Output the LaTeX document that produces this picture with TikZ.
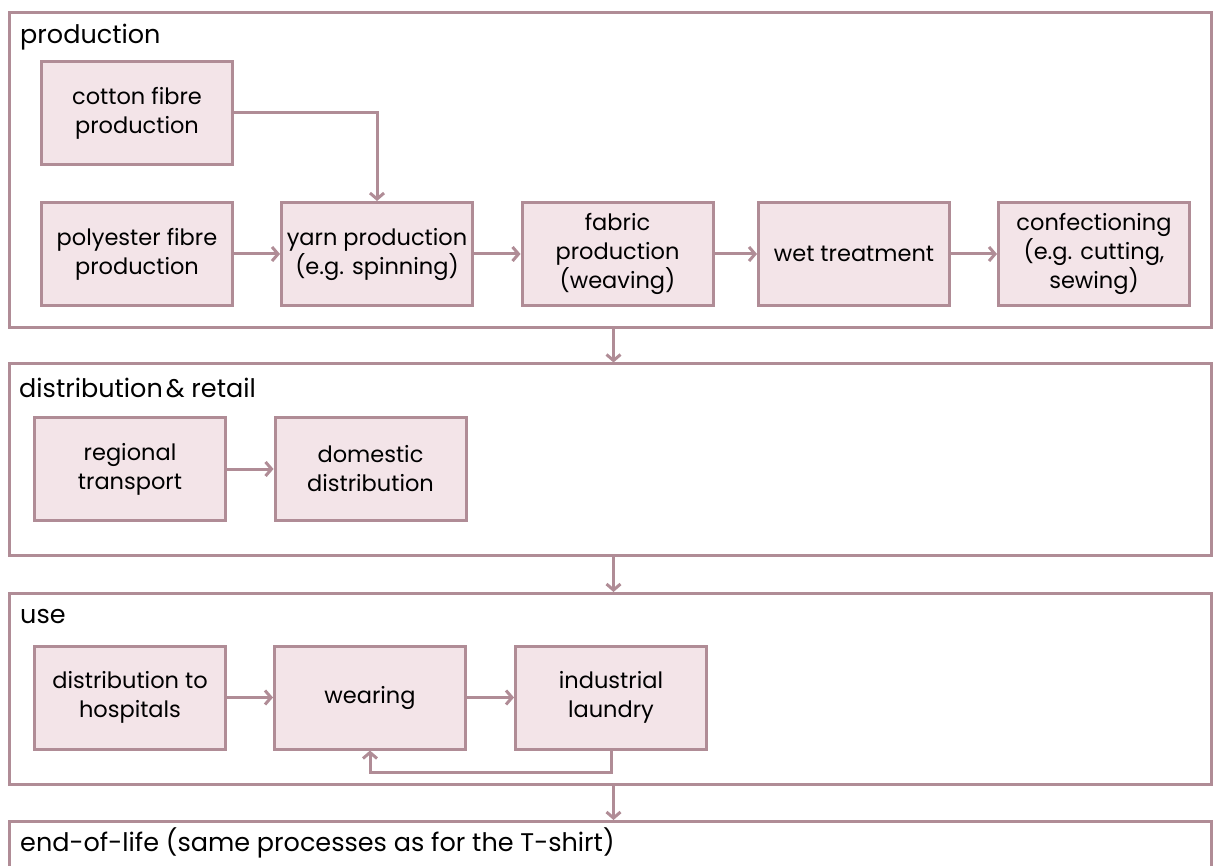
\documentclass[tikz,border=0pt]{standalone}
\usepackage{fontspec}
\setmainfont{Poppins}
\usetikzlibrary{arrows.meta}
\definecolor{edge}{HTML}{B08C96}
\definecolor{boxfill}{HTML}{F3E4E8}
\begin{document}
\begin{tikzpicture}[x=1pt,y=-1pt,
 proc/.style={draw=edge, fill=boxfill, line width=3pt, minimum width=191pt, minimum height=103pt, inner sep=0pt, align=center, font=\fontsize{22.5}{29}\selectfont},
 stage/.style={draw=edge, line width=3pt, inner sep=0pt},
 title/.style={anchor=base west, inner sep=0pt, font=\fontsize{25.5}{29}\selectfont},
 flow/.style={draw=edge, line width=3pt, -{Straight Barb[length=6pt,width=14pt]}}]
\useasboundingbox (0,0) rectangle (1215,866);
% stages
\node[stage, minimum width=1202pt, minimum height=315pt] (prod) at (610.5,170) {};
\node[stage, minimum width=1202pt, minimum height=191pt] (dist) at (610.5,459.5) {};
\node[stage, minimum width=1202pt, minimum height=191pt] (use) at (610.5,689) {};
\node[stage, minimum width=1202pt, minimum height=100pt] (eol) at (610.5,871.5) {};
% titles
\node[title] (tprod) at (20,44) {production};
\node[title] (tdist) at (19,397) {distribution\kern3pt\& retail};
\node[title] (tuse) at (20,623) {use};
\node[title] (teol) at (20,851) {end-of-life (same processes as for the T-shirt)};
% production
\node[proc] (cotton) at (137,113) {cotton fibre\\production};
\node[proc] (poly) at (137,254) {polyester fibre\\production};
\node[proc] (yarn) at (377,254) {yarn production\\(e.g. spinning)};
\node[proc] (fabric) at (617.5,254) {fabric\\production\\(weaving)};
\node[proc] (wet) at (854,254) {wet treatment};
\node[proc] (conf) at (1094,254) {confectioning\\(e.g. cutting,\\sewing)};
% distribution
\node[proc] (regional) at (130,469) {regional\\transport};
\node[proc] (domestic) at (370.5,469) {domestic\\distribution};
% use
\node[proc] (hosp) at (130,697.5) {distribution to\\hospitals};
\node[proc] (wearing) at (370,697.5) {wearing};
\node[proc] (laundry) at (611,697.5) {industrial\\laundry};
% connectors
\draw[flow] (cotton.east) -| (yarn.north);
\draw[flow] (poly) -- (yarn);
\draw[flow] (yarn) -- (fabric);
\draw[flow] (fabric) -- (wet);
\draw[flow] (wet) -- (conf);
\draw[flow] (regional) -- (domestic);
\draw[flow] (hosp) -- (wearing);
\draw[flow] (wearing) -- (laundry);
\draw[flow] (laundry.south) -- ++(0,22) -| (wearing.south);
\draw[flow] ([xshift=3pt]prod.south) -- ([xshift=3pt]dist.north);
\draw[flow] ([xshift=3pt]dist.south) -- ([xshift=3pt]use.north);
\draw[flow] ([xshift=3pt]use.south) -- ([xshift=3pt]eol.north);
\end{tikzpicture}
\end{document}
